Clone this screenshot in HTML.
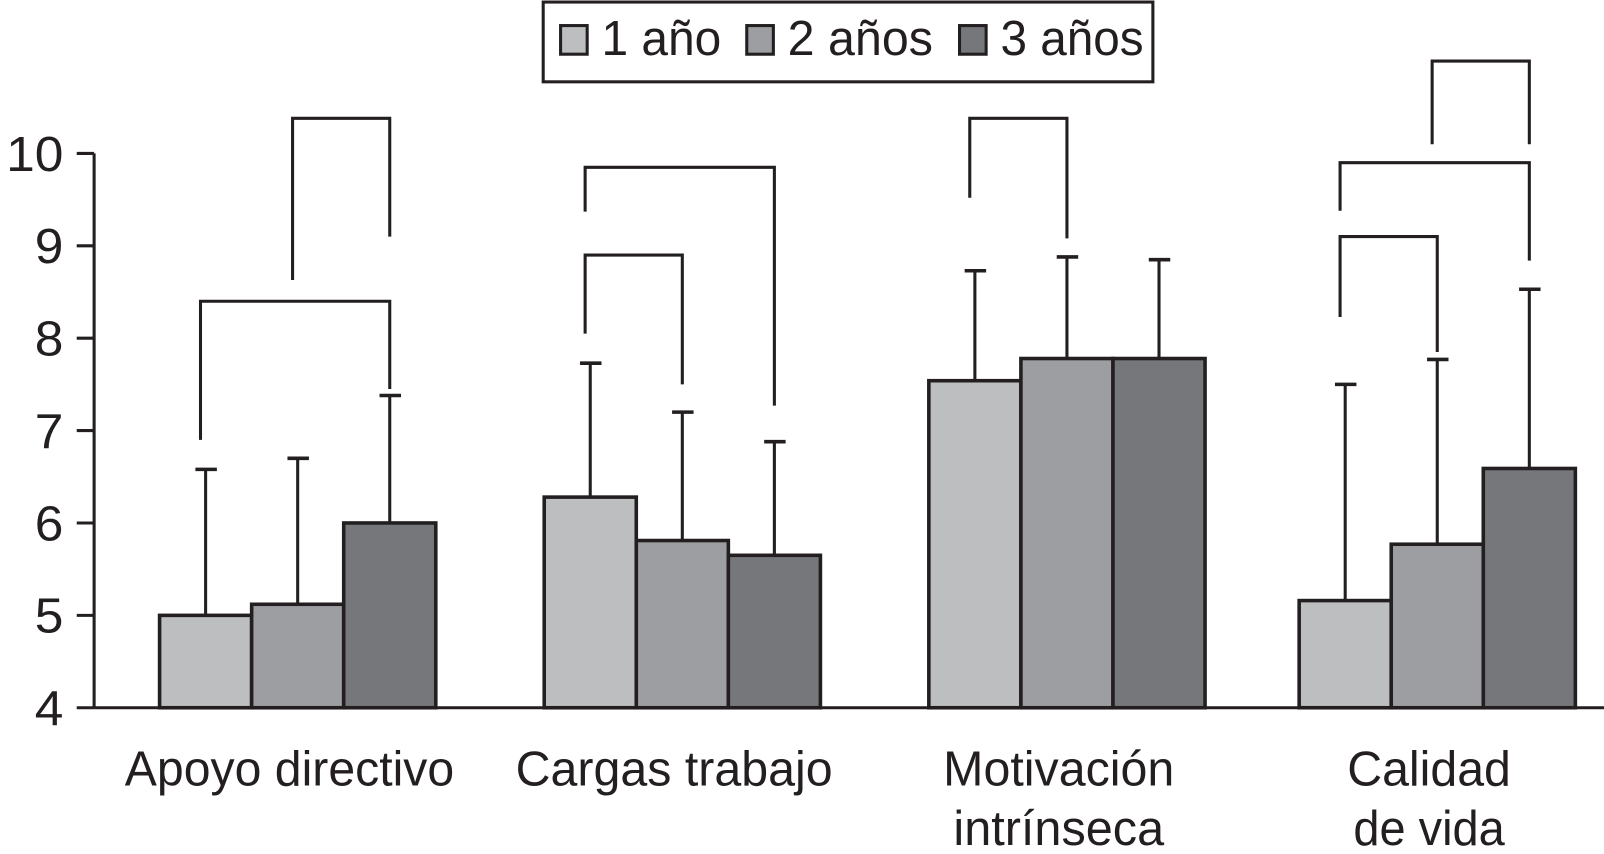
<!DOCTYPE html>
<html><head><meta charset="utf-8"><style>
html,body{margin:0;padding:0;background:#fff}
svg{display:block}
text{font-family:"Liberation Sans Narrow","Liberation Sans",Arial,sans-serif;fill:#231f20}
</style></head><body>
<svg id="chart" width="1604" height="854" viewBox="0 0 1568 835" preserveAspectRatio="none" xmlns="http://www.w3.org/2000/svg"></svg>
<script>
const categories = [["Apoyo directivo"],["Cargas trabajo"],["Motivación","intrínseca"],["Calidad","de vida"]];
const seriesNames = ["1 año","2 años","3 años"];
const year1 = [5.0, 6.28, 7.54, 5.16];
const year2 = [5.12, 5.81, 7.78, 5.77];
const year3 = [6.0, 5.65, 7.78, 6.59];
const err1 = [6.58, 7.73, 8.73, 7.5];
const err2 = [6.7, 7.2, 8.88, 7.77];
const err3 = [7.38, 6.88, 8.85, 8.53];
const yTicks = [4,5,6,7,8,9,10];
// brackets: [group, fromSeries, toSeries, topValue, leftEndValue, rightEndValue]
const brackets = [
 [0,0,2,8.4,6.9,7.45],[0,1,2,10.38,8.63,9.1],
 [1,0,2,9.85,9.37,7.27],[1,0,1,8.9,8.05,7.5],
 [2,0,1,10.38,9.52,9.08],
 [3,0,2,9.9,9.38,8.84],[3,0,1,9.1,8.23,7.85],[3,1,2,11.0,10.1,10.1]
];
const svg=document.getElementById('chart');
const NS='http://www.w3.org/2000/svg';
const C='#231f20';
const fills=['#bdbec0','#9d9ea2','#76777b'];
const groupLeft=[156,532,908,1270];
const barW=90;
function y(v){return 692-(v-4)*90.33;}
function bx(g,s){return groupLeft[g]+s*barW;}
function mk(tag,attrs,name){const e=document.createElementNS(NS,tag);for(const k in attrs)e.setAttribute(k,attrs[k]);


svg.appendChild(e);return e;}
function txt(x,yy,s,size,anchor,w,name){const t=mk('text',{x:x,y:yy,'text-anchor':anchor,'font-size':size,textLength:w,lengthAdjust:'spacingAndGlyphs'},name);t.textContent=s;return t;}
mk('line',{x1:92,y1:y(10),x2:92,y2:y(4),stroke:C,'stroke-width':3},'y-axis');
yTicks.forEach(t=>{
 mk('line',{x1:75,y1:y(t),x2:92,y2:y(t),stroke:C,'stroke-width':3},'y-tick-'+t);
 txt(62,y(t)+17,String(t),48,'end',String(t).length*28,'y-tick-label-'+t);
});
const vals=[year1,year2,year3], errs=[err1,err2,err3];
for(let g=0;g<4;g++){for(let s=0;s<3;s++){
 const x=bx(g,s), cx=x+barW/2;
 mk('line',{x1:cx,y1:y(vals[s][g]),x2:cx,y2:y(errs[s][g]),stroke:C,'stroke-width':3},'error-bar-g'+(g+1)+'-s'+(s+1));
 mk('line',{x1:cx-10,y1:y(errs[s][g]),x2:cx+11,y2:y(errs[s][g]),stroke:C,'stroke-width':3.5},'error-cap-g'+(g+1)+'-s'+(s+1));
}}
for(let g=0;g<4;g++){for(let s=0;s<3;s++){
 const x=bx(g,s);
 mk('rect',{x:x,y:y(vals[s][g]),width:barW,height:y(4)-y(vals[s][g]),fill:fills[s],stroke:C,'stroke-width':3.5},'bar-g'+(g+1)+'-s'+(s+1));
}}
mk('line',{x1:92,y1:y(4),x2:1568,y2:y(4),stroke:C,'stroke-width':3},'x-axis');
brackets.forEach((b,i)=>{
 const xl=bx(b[0],b[1])+barW/2-5, xr=bx(b[0],b[2])+barW/2;
 mk('polyline',{points:`${xl},${y(b[4])} ${xl},${y(b[3])} ${xr},${y(b[3])} ${xr},${y(b[5])}`,fill:'none',stroke:C,'stroke-width':3},'significance-bracket-'+(i+1));
});
const labelW=[[322],[310],[226,206],[160,148]];
categories.forEach((lines,g)=>{
 const cx=groupLeft[g]+barW*1.5-8;
 lines.forEach((l,j)=>{txt(cx,768+j*58,l,48,'middle',labelW[g][j],'category-label-'+(g+1)+(j?'-line2':''));});
});
mk('rect',{x:531,y:2,width:596,height:78,fill:'#fff',stroke:C,'stroke-width':3},'legend-box');
const lx=[548,730,938];
const lw=[117,142,140];
seriesNames.forEach((n,i)=>{
 mk('rect',{x:lx[i],y:25,width:26,height:28,fill:fills[i],stroke:C,'stroke-width':3},'legend-swatch-'+(i+1));
 txt(lx[i]+40,54,n,48,'start',lw[i],'legend-label-'+(i+1));
});
</script>
</body></html>
